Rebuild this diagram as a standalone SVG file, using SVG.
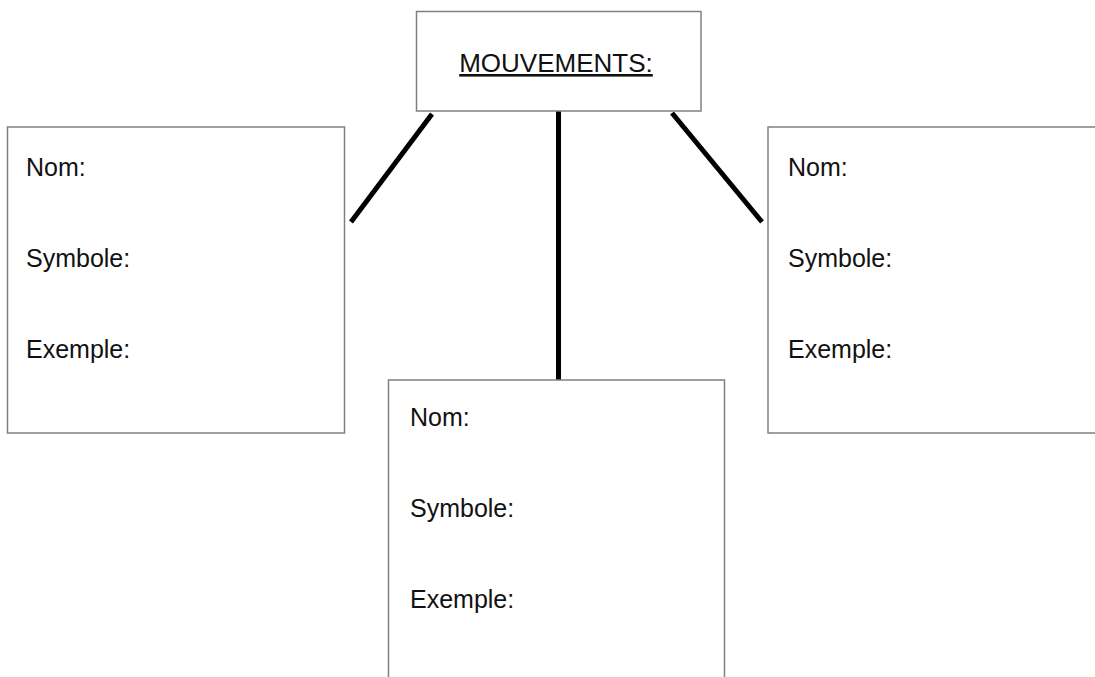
<svg xmlns="http://www.w3.org/2000/svg" width="1095" height="677" viewBox="0 0 1095 677">
<style>
.box{fill:#ffffff;stroke:#808080;stroke-width:1.5}
.lbl{font-family:"Liberation Sans",Arial,sans-serif;font-size:25px;fill:#111}
.conn{stroke:#000;stroke-width:5;stroke-linecap:butt;fill:none}
</style>
<rect x="0" y="0" width="1095" height="677" fill="#ffffff"/>
<g id="connectors">
<line class="conn" x1="432" y1="114" x2="351" y2="222"/>
<line class="conn" x1="558.5" y1="111" x2="558.5" y2="380"/>
<line class="conn" x1="672" y1="113" x2="762" y2="222"/>
</g>
<g id="node-mouvements">
<rect class="box" x="416.5" y="11.5" width="284.5" height="99.5"/>
<text class="lbl" x="556" y="72" text-anchor="middle" font-size="26" style="font-size:26px" text-decoration="underline">MOUVEMENTS:</text>
</g>
<g id="node-left">
<rect class="box" x="7.5" y="127" width="337" height="306"/>
<text class="lbl" x="26" y="176">Nom:</text>
<text class="lbl" x="26" y="267">Symbole:</text>
<text class="lbl" x="26" y="358">Exemple:</text>
</g>
<g id="node-right">
<rect class="box" x="768" y="127" width="340" height="306"/>
<text class="lbl" x="788" y="176">Nom:</text>
<text class="lbl" x="788" y="267">Symbole:</text>
<text class="lbl" x="788" y="358">Exemple:</text>
</g>
<g id="node-middle">
<rect class="box" x="388.5" y="380" width="336" height="310"/>
<text class="lbl" x="410" y="426">Nom:</text>
<text class="lbl" x="410" y="517">Symbole:</text>
<text class="lbl" x="410" y="608">Exemple:</text>
</g>
</svg>
